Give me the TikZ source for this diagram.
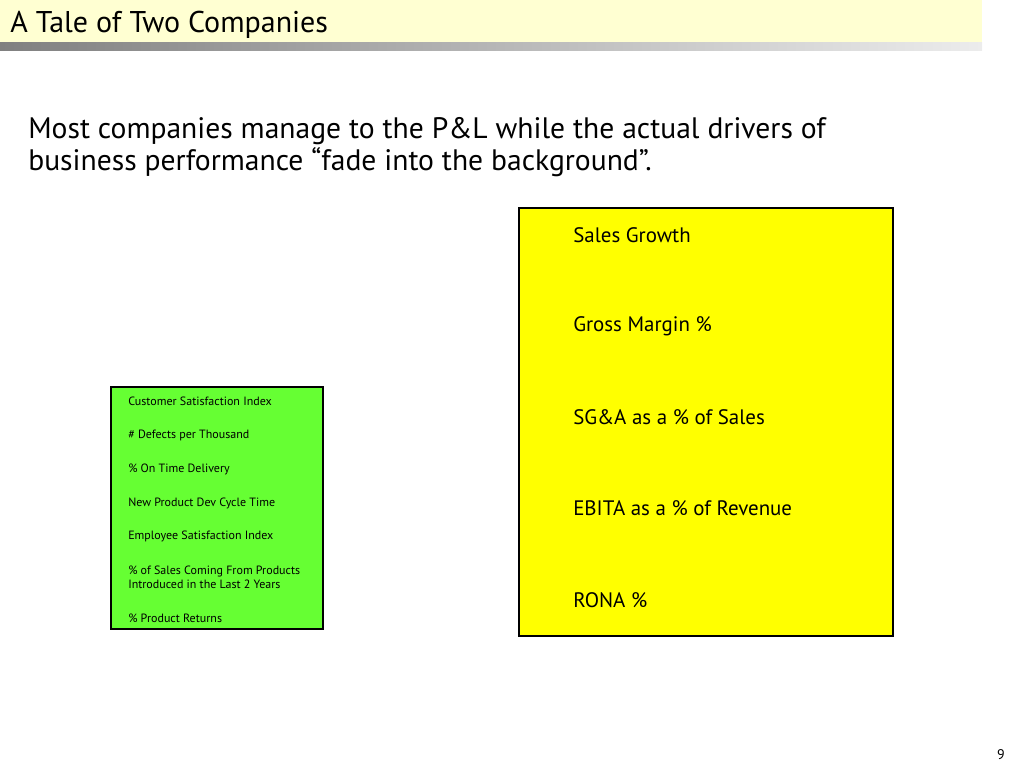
\documentclass[tikz,border=0pt]{standalone}
\usepackage{fontspec}
\setmainfont{PT Sans}
\usepackage{tikz}
\usetikzlibrary{positioning}
\definecolor{titlebg}{HTML}{FFFFD2}
\definecolor{barDark}{HTML}{808080}
\definecolor{barLight}{HTML}{ECECEC}
\definecolor{leadGreen}{HTML}{66FF33}
\definecolor{lagYellow}{HTML}{FFFF00}

\begin{document}
\begin{tikzpicture}[x=0.75pt,y=-0.75pt,
lead/.style={anchor=west,inner sep=0pt,font=\fontsize{9}{10.6}\selectfont,align=left},
lag/.style={anchor=west,inner sep=0pt,font=\fontsize{15.7}{18}\selectfont},
box/.style={draw,line width=1.2pt}
]
\useasboundingbox (0,0) rectangle (1024,768);
% title bar
\fill[titlebg] (0,0) rectangle (982,42);
\shade[left color=barDark,right color=barLight] (0,42) rectangle (982,50);
\node[anchor=base west,inner sep=0pt,font=\fontsize{22.5}{24}\selectfont] (title) at (10,32) {A Tale of Two Companies};
\node[anchor=base west,inner sep=0pt,align=left,font=\fontsize{22.2}{24}\selectfont] (intro) at (28,170)
  {Most companies manage to the P\&L while the actual drivers of\\business performance “fade into the background”.};
% leading indicators
\draw[box,line width=1pt,fill=leadGreen] (111,387) rectangle (323,629);
\node[lead] (csi) at (128,401) {Customer Satisfaction Index};
\node[lead] (defects) at (128,435) {\# Defects per Thousand};
\node[lead] (ontime) at (128,469) {\% On Time Delivery};
\node[lead] (cycle) at (128,503) {New Product Dev Cycle Time};
\node[lead] (esi) at (128,536) {Employee Satisfaction Index};
\node[lead] (newsales) at (128,577) {\% of Sales Coming From Products\\Introduced in the Last 2 Years};
\node[lead] (returns) at (128,618) {\% Product Returns};
% P&L measures
\draw[box,fill=lagYellow] (519,208) rectangle (893,636);
\node[lag] (growth) at (573,235) {Sales Growth};
\node[lag] (margin) at (573,326) {Gross Margin \%};
\node[lag] (sga) at (573,417) {SG\&A as a \% of Sales};
\node[lag] (ebita) at (573,508) {EBITA as a \% of Revenue};
\node[lag] (rona) at (573,600) {RONA \%};
\node[inner sep=0pt,font=\fontsize{10.5}{12}\selectfont] (page) at (1001,755) {9};
\end{tikzpicture}
\end{document}
